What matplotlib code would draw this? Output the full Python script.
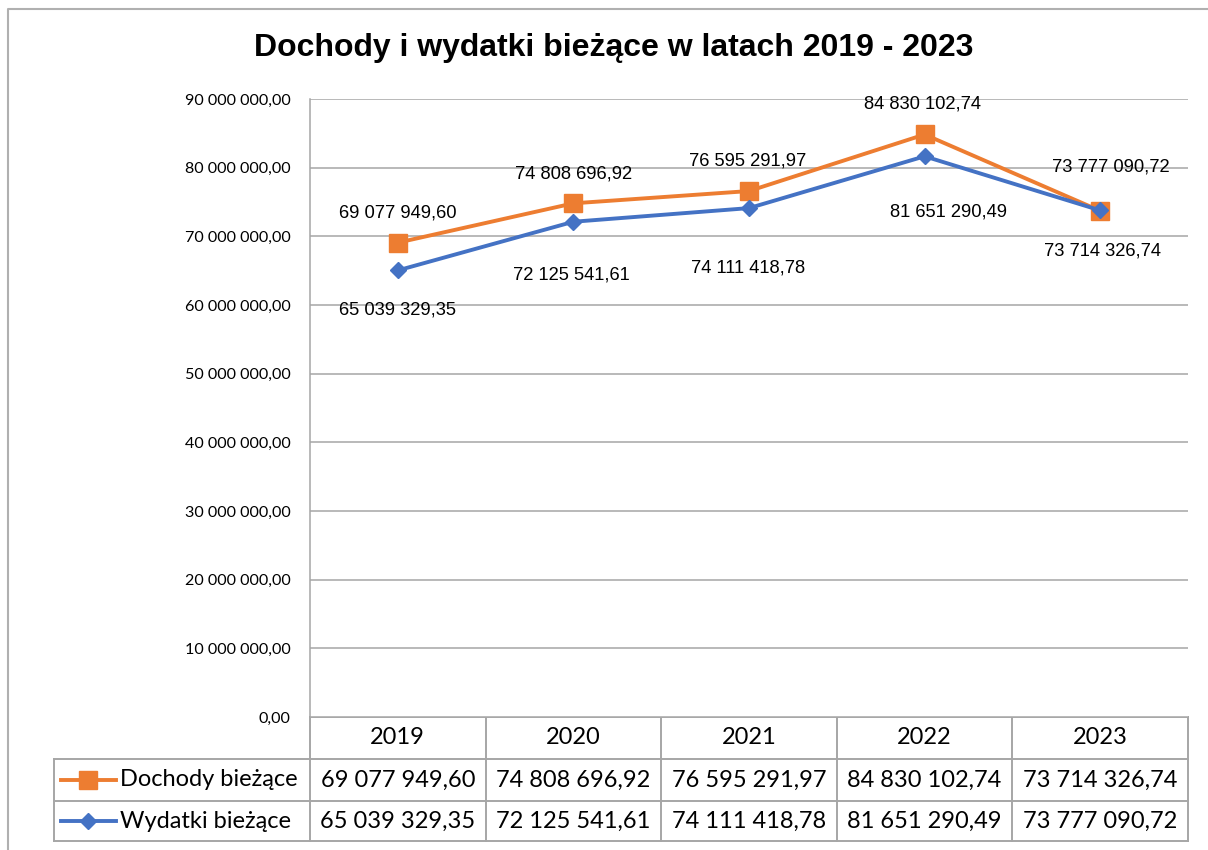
import numpy as np
import matplotlib
matplotlib.use('Agg')
import matplotlib.pyplot as plt
from matplotlib.lines import Line2D

# data
years = ['2019', '2020', '2021', '2022', '2023']
dochody = [69077949.60, 74808696.92, 76595291.97, 84830102.74, 73714326.74]
wydatki = [65039329.35, 72125541.61, 74111418.78, 81651290.49, 73777090.72]
series_names = ['Dochody bieżące', 'Wydatki bieżące']
title = 'Dochody i wydatki bieżące w latach 2019 - 2023'

# label offsets in pixels (hand placed in the original)
off_doch = [(0, 30), (0, 29), (-1, 30), (-2, 30), (2, -40)]
off_wyd = [(0, -40), (-2, -53), (-1, -60), (24, -56), (11, 43)]

ORANGE = '#ED7D31'
BLUE = '#4472C4'
GRID = '#A6A6A6'
W, H = 1208, 850


def fmt(v):
    return f"{v:,.2f}".replace(',', ' ').replace('.', ',')


fig = plt.figure(figsize=(W / 100, H / 100), dpi=100)

# overlay in pixel coords for border / table
ov = fig.add_axes([0, 0, 1, 1])
ov.set_xlim(0, W)
ov.set_ylim(H, 0)
ov.axis('off')

ax = fig.add_axes([310 / W, (H - 717) / H, 878 / W, 618 / H])
x = np.arange(len(years))
ax.set_xlim(-0.5, len(years) - 0.5)
ax.set_ylim(0, 90000000)
ax.set_yticks(np.arange(0, 90000001, 10000000))
ax.set_yticklabels([fmt(t) for t in ax.get_yticks()], fontsize=11.6, family='Lato')
ax.tick_params(axis='y', length=0, pad=14)
ax.set_xticks([])
ax.grid(axis='y', color=GRID, lw=1.1)
ax.set_axisbelow(True)
for s in ['top', 'right', 'bottom']:
    ax.spines[s].set_visible(False)
ax.spines['left'].set_color(GRID)
ax.spines['left'].set_linewidth(1.1)

ax.plot(x, dochody, color=ORANGE, lw=2.8, marker='s', ms=12.5, zorder=3)
ax.plot(x, wydatki, color=BLUE, lw=2.8, marker='D', ms=8.5, zorder=4)

for i in range(len(years)):
    ax.annotate(fmt(dochody[i]), (x[i], dochody[i]), xytext=off_doch[i],
                textcoords='offset pixels', ha='center', va='center',
                fontsize=13.2, family='Liberation Sans')
    ax.annotate(fmt(wydatki[i]), (x[i], wydatki[i]), xytext=off_wyd[i],
                textcoords='offset pixels', ha='center', va='center',
                fontsize=13.2, family='Liberation Sans')

fig.text(614 / W, 1 - 48 / H, title, ha='center', va='center',
         fontsize=23, fontweight='bold', family='Liberation Sans')

# outer chart border
ov.plot([8, 8, W + 5], [H + 5, 9, 9], color='#B0B0B0', lw=1.5)


def to_px(xv):
    d = ax.transData.transform((xv, 0))
    return d[0]


col_edges = [to_px(v) for v in np.arange(-0.5, len(years), 1.0)]
col_mid = [to_px(v) for v in x]
row_y = [717, 759, 801, 841]
leg_left = 54
tfont = dict(fontsize=17, family='Lato', va='center')

# table grid
lkw = dict(color=GRID, lw=1.4)
ov.plot([col_edges[0], col_edges[-1]], [row_y[0], row_y[0]], **lkw)
for yy in row_y[1:]:
    ov.plot([leg_left, col_edges[-1]], [yy, yy], **lkw)
for xe in col_edges:
    ov.plot([xe, xe], [row_y[0], row_y[-1]], **lkw)
ov.plot([leg_left, leg_left], [row_y[1], row_y[-1]], **lkw)

for i, yr in enumerate(years):
    ov.text(col_mid[i], (row_y[0] + row_y[1]) / 2, yr, ha='center', **tfont)

rows = [(series_names[0], dochody, ORANGE, 's', 12.5),
        (series_names[1], wydatki, BLUE, 'D', 8.5)]
for r, (name, vals, c, mk, ms) in enumerate(rows):
    yc = (row_y[r + 1] + row_y[r + 2]) / 2
    ov.add_line(Line2D([61, 116], [yc, yc], color=c, lw=2.8))
    ov.add_line(Line2D([88], [yc], color=c, marker=mk, ms=ms))
    ov.text(120, yc, name, ha='left', **tfont)
    for i, v in enumerate(vals):
        ov.text(col_mid[i], yc, fmt(v), ha='center', **tfont)

fig.savefig('out.png', dpi=100)
